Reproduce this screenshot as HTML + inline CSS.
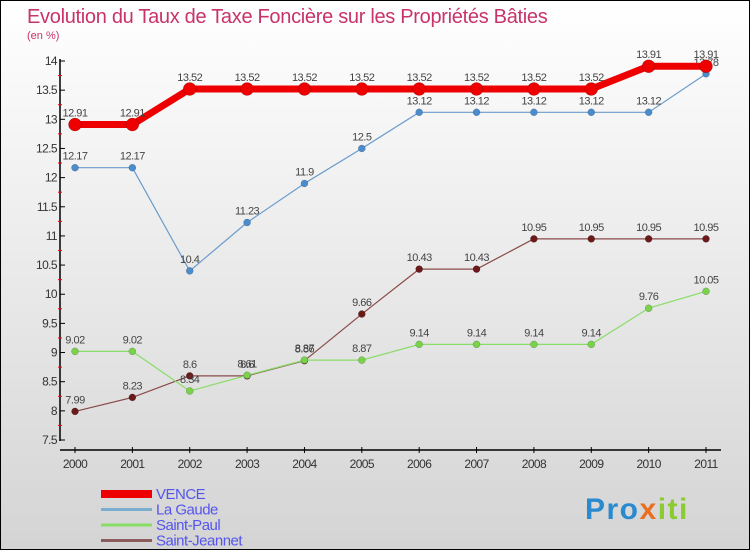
<!DOCTYPE html>
<html><head><meta charset="utf-8"><style>
body{margin:0}
#c{width:748px;height:548px;border:1px solid #000;background:linear-gradient(#ffffff,#d4d4d4);position:relative;overflow:hidden;font-family:"Liberation Sans",sans-serif}
</style></head><body>
<div id="c">
<svg id="s" width="748" height="548" xmlns="http://www.w3.org/2000/svg" style="position:absolute;left:0;top:0"></svg>
</div>
<script>
const years=[2000,2001,2002,2003,2004,2005,2006,2007,2008,2009,2010,2011];
const vence=[12.91,12.91,13.52,13.52,13.52,13.52,13.52,13.52,13.52,13.52,13.91,13.91];
const laGaude=[12.17,12.17,10.4,11.23,11.9,12.5,13.12,13.12,13.12,13.12,13.12,13.78];
const saintPaul=[9.02,9.02,8.34,8.61,8.87,8.87,9.14,9.14,9.14,9.14,9.76,10.05];
const saintJeannet=[7.99,8.23,8.6,8.6,8.86,9.66,10.43,10.43,10.95,10.95,10.95,10.95];
const yTicks=[7.5,8,8.5,9,9.5,10,10.5,11,11.5,12,12.5,13,13.5,14];
const seriesNames=["VENCE","La Gaude","Saint-Paul","Saint-Jeannet"];

const s=document.getElementById('s');
const NS='http://www.w3.org/2000/svg';
function X(i){return 74+i*(705-74)/(years.length-1);}
function Y(v){return 439-(v-7.5)*(439-60)/(14-7.5);}
function el(t,a,p){const e=document.createElementNS(NS,t);for(const k in a)e.setAttribute(k,a[k]);(p||s).appendChild(e);return e;}

let t=el('text',{x:26,y:22,fill:'#c8336a','font-size':20,'letter-spacing':'-0.3'});t.textContent='Evolution du Taux de Taxe Foncière sur les Propriétés Bâties';


t=el('text',{x:26,y:38,fill:'#c8336a','font-size':11});t.textContent='(en %)';



let a=el('line',{x1:59,y1:58,x2:59,y2:440,stroke:'#000','stroke-width':1.5});


a=el('line',{x1:59,y1:449,x2:720,y2:449,stroke:'#000','stroke-width':1.5});


yTicks.forEach((v,i)=>{
  el('line',{x1:59,y1:Y(v),x2:64,y2:Y(v),stroke:'#000'});
  const tl=el('text',{x:56,y:Y(v)+4,'text-anchor':'end','font-size':12,fill:'#333','letter-spacing':'-0.6'});
  tl.textContent=String(v);
  
  
  if(i<yTicks.length-1) el('line',{x1:57,y1:Y(v+0.25),x2:61,y2:Y(v+0.25),stroke:'#e00'});
});
years.forEach((y,i)=>{
  el('line',{x1:X(i),y1:446,x2:X(i),y2:452,stroke:'#000'});
  const tl=el('text',{x:X(i),y:467,'text-anchor':'middle','font-size':12,fill:'#333','letter-spacing':'-0.6'});
  tl.textContent=String(y);
  
  
});

function series(data,color,dot,w,r,name){
  const g=el('g',{});
  
  
  el('polyline',{points:data.map((v,i)=>X(i)+','+Y(v)).join(' '),fill:'none',stroke:color,'stroke-width':w,'stroke-linejoin':'round'},g);
  data.forEach((v,i)=>{
    const c=el('circle',{cx:X(i),cy:Y(v),r:r,fill:dot,stroke:'rgba(0,0,0,0.3)','stroke-width':0.5},g);
    
    
    const l=el('text',{x:X(i),y:Y(v)-8,'text-anchor':'middle','font-size':11,fill:'#444','letter-spacing':'-0.5'},g);
    l.textContent=String(v);
    
    
  });
}
series(saintJeannet,'#8b4a4a','#6b1a1a',1.2,3.5,'saint-jeannet');
series(saintPaul,'#88dd66','#7ad24a',1.2,3.5,'saint-paul');
series(laGaude,'#6a9ccc','#4a8ccc',1.2,3.5,'la-gaude');
series(vence,'#ee0000','#ee0000',7,6.5,'vence');

const lc=['#ee0000','#7aaed0','#88dd66','#8b5a5a'];const lw=[8,3,3,3];
seriesNames.forEach((n,i)=>{
  const y=492+i*15.5;
  const g=el('g',{});
  
  
  el('line',{x1:100,y1:y+1,x2:151,y2:y+1,stroke:lc[i],'stroke-width':lw[i]},g);
  const tx=el('text',{x:155,y:y+6,'font-size':15,fill:'#5555ee','letter-spacing':'-0.5'},g);tx.textContent=n;
});
const lg=el('text',{x:584,y:518,'font-size':30,'font-weight':'bold','letter-spacing':'1.5'});


const parts=[['Pro','#2a8ad0'],['x','#e87020'],['iti','#8acc30']];
parts.forEach(p=>{const ts=el('tspan',{fill:p[1]},lg);ts.textContent=p[0];});
</script>
</body></html>
